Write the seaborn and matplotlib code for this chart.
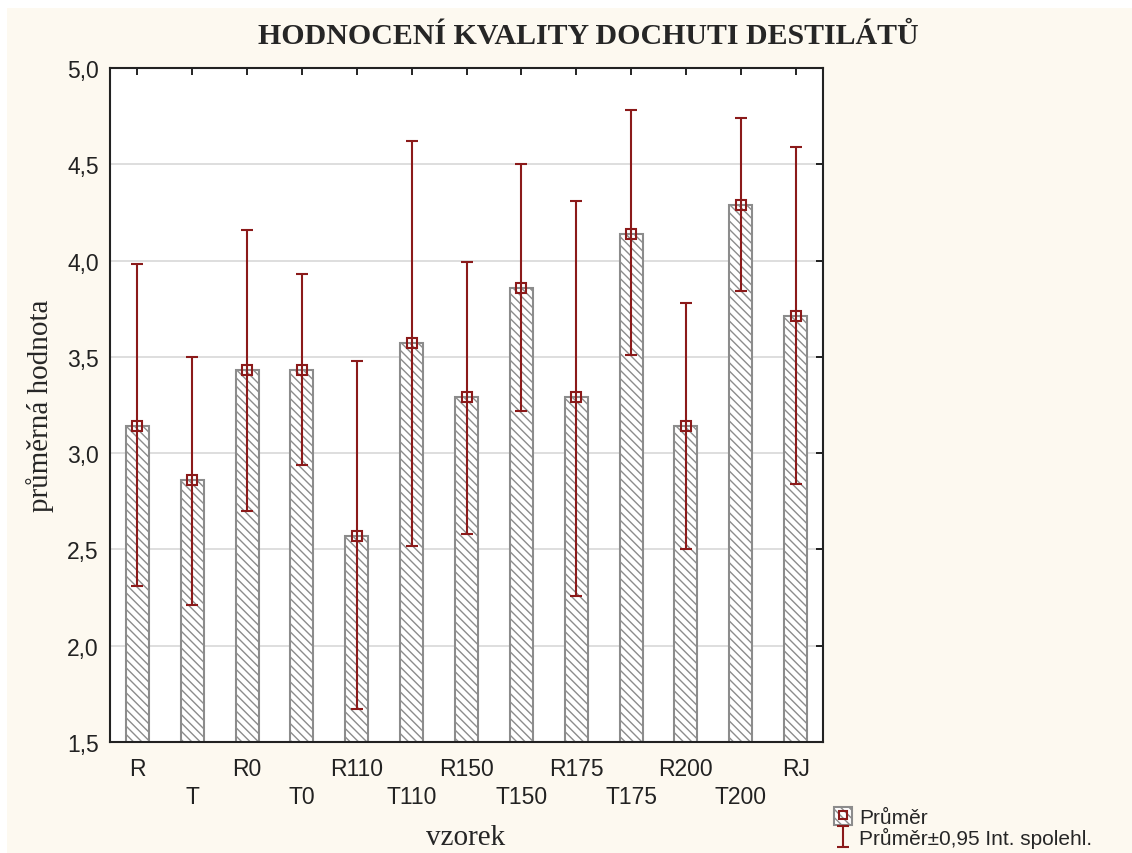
import matplotlib
matplotlib.use("Agg")
import matplotlib.pyplot as plt
import numpy as np
import pandas as pd
import seaborn as sns
from matplotlib.legend_handler import HandlerTuple
from matplotlib.patches import Patch

# data
vzorky = ["R", "T", "R0", "T0", "R110", "T110", "R150", "T150",
          "R175", "T175", "R200", "T200", "RJ"]
prumer = [3.14, 2.86, 3.43, 3.43, 2.57, 3.57, 3.29, 3.86, 3.29, 4.14, 3.14, 4.29, 3.71]
ci_dolni = [2.31, 2.21, 2.70, 2.94, 1.67, 2.52, 2.58, 3.22, 2.26, 3.51, 2.50, 3.84, 2.84]
ci_horni = [3.98, 3.50, 4.16, 3.93, 3.48, 4.62, 3.99, 4.50, 4.31, 4.78, 3.78, 4.74, 4.59]
y_ticks = [1.5, 2.0, 2.5, 3.0, 3.5, 4.0, 4.5, 5.0]

BG = "#fdf9f0"
RED = "#8b1a1a"
GRAY = "#8c8c8c"

sns.set_theme(style="white")
plt.rcParams["font.family"] = ["Liberation Sans", "DejaVu Sans"]
plt.rcParams["hatch.color"] = "#9a9a9a"
plt.rcParams["hatch.linewidth"] = 1.0

df = pd.DataFrame({"vzorek": vzorky, "prumer": prumer,
                   "lo": ci_dolni, "hi": ci_horni})

fig = plt.figure(figsize=(11.32, 8.54), dpi=100, facecolor=BG)
ax = fig.add_axes([110 / 1132, 1 - 743 / 854, 713 / 1132, 674 / 854])
ax.set_facecolor("white")

sns.barplot(data=df, x="vzorek", y="prumer", color="white", saturation=1,
            edgecolor=GRAY, linewidth=1.5, width=0.42, errorbar=None, ax=ax)
for p in ax.patches:
    p.set_hatch("\\\\\\\\")

pos = np.arange(len(df))
means = df["prumer"].to_numpy()
yerr = [means - df["lo"].to_numpy(), df["hi"].to_numpy() - means]
eb = ax.errorbar(pos, means, yerr=yerr, fmt="none", ecolor=RED,
                 elinewidth=1.5, capsize=4.5, capthick=1.5, zorder=3)
mk, = ax.plot(pos, means, linestyle="none", marker="s", markersize=7.5,
              markerfacecolor="none", markeredgecolor=RED, markeredgewidth=1.5, zorder=4)

ax.set_ylim(1.5, 5.0)
ax.set_xlim(-0.5, len(df) - 0.5)
ax.set_yticks(y_ticks)
ax.set_yticklabels([f"{v:.1f}".replace(".", ",") for v in y_ticks], fontsize=16.5)
ax.set_xticks(pos)
ax.set_xticklabels([v if i % 2 == 0 else "\n" + v for i, v in enumerate(vzorky)],
                   fontsize=16.5, linespacing=1.25)
ax.yaxis.grid(True, color="#d8d8d8", linewidth=1.2)
ax.set_axisbelow(True)
ax.tick_params(axis="both", direction="in", length=5, width=1.2, colors="black",
               top=True, right=True)
ax.tick_params(axis="y", labelcolor="#222222", pad=8)
ax.tick_params(axis="x", labelcolor="#222222", pad=11)
for s in ax.spines.values():
    s.set_color("#222222")
    s.set_linewidth(1.5)

ax.set_xlabel("")
ax.set_ylabel("")
fig.text(466 / 1132, 1 - 838 / 854, "vzorek", family="Liberation Serif",
         fontsize=21, ha="center", va="center")
fig.text(40 / 1132, 1 - 406 / 854, "průměrná hodnota", family="Liberation Serif",
         fontsize=21, ha="center", va="center", rotation=90)
fig.text(588 / 1132, 1 - 37 / 854, "HODNOCENÍ KVALITY DOCHUTI DESTILÁTŮ",
         family="Liberation Serif", fontweight="bold", fontsize=21.5,
         ha="center", va="center")

# white strips at top and left of the screenshot
fig.patches.append(plt.Rectangle((0, 1 - 9 / 854), 1, 9 / 854, transform=fig.transFigure,
                                 facecolor="white", edgecolor="none", zorder=-1))
fig.patches.append(plt.Rectangle((0, 0), 7 / 1132, 1, transform=fig.transFigure,
                                 facecolor="white", edgecolor="none", zorder=-1))

bar_handle = Patch(facecolor="white", edgecolor=GRAY, linewidth=1.5, hatch="\\\\\\\\")
leg_mk = plt.Line2D([], [], linestyle="none", marker="s", markersize=6,
                    markerfacecolor="none", markeredgecolor=RED, markeredgewidth=1.5)
fig.legend([(bar_handle, leg_mk), eb],
           ["Průměr", "Průměr±0,95 Int. spolehl."],
           handler_map={tuple: HandlerTuple(ndivide=1, pad=0)},
           loc="upper left", bbox_to_anchor=(834 / 1132, 1 - 808 / 854),
           frameon=False, fontsize=15, handlelength=0.85, handleheight=0.95,
           handletextpad=0.35, labelspacing=0.0, borderaxespad=0, borderpad=0)

fig.savefig("out.png", dpi=100, facecolor=BG)
